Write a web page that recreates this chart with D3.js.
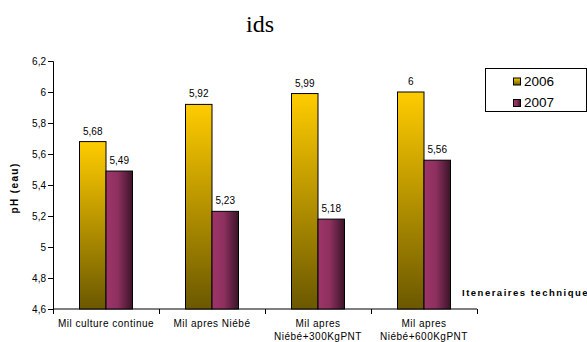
<!DOCTYPE html>
<html>
<head>
<meta charset="utf-8">
<script src="https://cdn.jsdelivr.net/npm/d3@7"></script>
<style>
  html, body { margin: 0; padding: 0; background: #fff; overflow: hidden; }
  svg { display: block; }
  text { font-family: "Liberation Sans", Arial, sans-serif; fill: #000; }
</style>
</head>
<body>
<svg id="chart" width="587" height="342"></svg>
<script>
// Soil pH (water) by cropping itinerary, 2006 vs 2007
const categories = [
  ["Mil culture continue"],
  ["Mil apres Niébé"],
  ["Mil apres", "Niébé+300KgPNT"],
  ["Mil apres", "Niébé+600KgPNT"]
];
const seriesNames = ["2006", "2007"];
const values2006 = [5.68, 5.92, 5.99, 6];
const values2007 = [5.49, 5.23, 5.18, 5.56];
const yTicks = [4.6, 4.8, 5, 5.2, 5.4, 5.6, 5.8, 6, 6.2];

const svg = d3.select("#chart");
const plot = { left: 53, right: 477, top: 61, bottom: 309 };

const fmt = v => String(v).replace(".", ",");

// gradients
const defs = svg.append("defs");
const gYel = defs.append("linearGradient").attr("id", "gYel")
  .attr("x1", 0).attr("y1", 0).attr("x2", 0).attr("y2", 1);
gYel.append("stop").attr("offset", "0%").attr("stop-color", "#ffcc00");
gYel.append("stop").attr("offset", "100%").attr("stop-color", "#6b5800");

const gPur = defs.append("linearGradient").attr("id", "gPur")
  .attr("x1", 0).attr("y1", 0).attr("x2", 1).attr("y2", 0);
gPur.append("stop").attr("offset", "0%").attr("stop-color", "#9e3569");
gPur.append("stop").attr("offset", "45%").attr("stop-color", "#8e305f");
gPur.append("stop").attr("offset", "100%").attr("stop-color", "#3a1428");

const fills = ["url(#gYel)", "url(#gPur)"];

const x = d3.scaleBand()
  .domain(d3.range(categories.length))
  .range([plot.left, plot.right])
  .paddingInner(0).paddingOuter(0);

const xSub = d3.scaleBand()
  .domain(d3.range(seriesNames.length))
  .range([x.bandwidth() * 0.25, x.bandwidth() * 0.75]);

const y = d3.scaleLinear().domain([4.6, 6.2]).range([plot.bottom, plot.top]);

// title
svg.append("text")
  .attr("x", 260).attr("y", 32)
  .attr("text-anchor", "middle")
  .style("font-family", "'Liberation Serif', 'Times New Roman', serif")
  .style("font-size", "24px")
  .text("ids");

// y axis
const yAxis = d3.axisLeft(y).tickValues(yTicks).tickSize(5).tickFormat(fmt);
const gy = svg.append("g").attr("transform", `translate(${plot.left},0)`).call(yAxis);
gy.select(".domain").attr("stroke", "#000");
gy.selectAll(".tick line").attr("stroke", "#000");
gy.selectAll(".tick text")
  .style("font-family", "'Liberation Sans', Arial, sans-serif")
  .style("font-size", "10px").attr("x", -7);

// x axis
const xAxis = d3.axisBottom(
    d3.scaleLinear().domain([0, categories.length]).range([plot.left, plot.right]))
  .tickValues(d3.range(categories.length + 1)).tickSize(5).tickFormat("");
const gx = svg.append("g").attr("transform", `translate(0,${plot.bottom})`).call(xAxis);
gx.select(".domain").attr("stroke", "#000").attr("d", `M${plot.left},0H${plot.right}`);
gx.selectAll(".tick line").attr("stroke", "#000");

// category labels
categories.forEach((lines, i) => {
  const t = svg.append("text")
    .attr("x", x(i) + x.bandwidth() / 2)
    .attr("y", 327)
    .attr("text-anchor", "middle")
    .style("font-size", "10px")
    .style("letter-spacing", "0.5px");
  lines.forEach((l, j) => {
    t.append("tspan").attr("x", x(i) + x.bandwidth() / 2)
      .attr("dy", j === 0 ? 0 : 13).text(l);
  });
});

// bars
const series = [values2006, values2007];
series.forEach((vals, s) => {
  const g = svg.append("g");
  g.selectAll("rect").data(vals).join("rect")
    .attr("x", (d, i) => x(i) + xSub(s))
    .attr("y", d => y(d))
    .attr("width", xSub.bandwidth())
    .attr("height", d => y(4.6) - y(d))
    .attr("fill", fills[s])
    .attr("stroke", "#000")
    .attr("stroke-width", 1);
  g.selectAll("text").data(vals).join("text")
    .attr("x", (d, i) => x(i) + xSub(s) + xSub.bandwidth() / 2)
    .attr("y", d => y(d) - 7)
    .attr("text-anchor", "middle")
    .style("font-size", "10px")
    .text(fmt);
});

// axis titles
svg.append("text")
  .attr("transform", `translate(18,${(plot.top + plot.bottom) / 2 + 3}) rotate(-90)`)
  .attr("text-anchor", "middle")
  .style("font-size", "10px").style("font-weight", "bold")
  .style("letter-spacing", "1.4px")
  .text("pH (eau)");

svg.append("text")
  .attr("x", 462).attr("y", 296)
  .style("font-size", "9.5px").style("font-weight", "bold")
  .style("letter-spacing", "1.5px")
  .text("Iteneraires techniques");

// legend
const lg = svg.append("g");
lg.append("rect").attr("x", 485.5).attr("y", 68.5).attr("width", 101).attr("height", 43)
  .attr("fill", "#fff").attr("stroke", "#000").attr("stroke-width", 1);
seriesNames.forEach((n, i) => {
  const yy = 78 + i * 21.5;
  lg.append("rect").attr("x", 513.5).attr("y", yy).attr("width", 7).attr("height", 7)
    .attr("fill", fills[i]).attr("stroke", "#000").attr("stroke-width", 1);
  lg.append("text").attr("x", 524).attr("y", yy + 7.5)
    .style("font-size", "13.5px").text(n);
});
</script>
</body>
</html>
